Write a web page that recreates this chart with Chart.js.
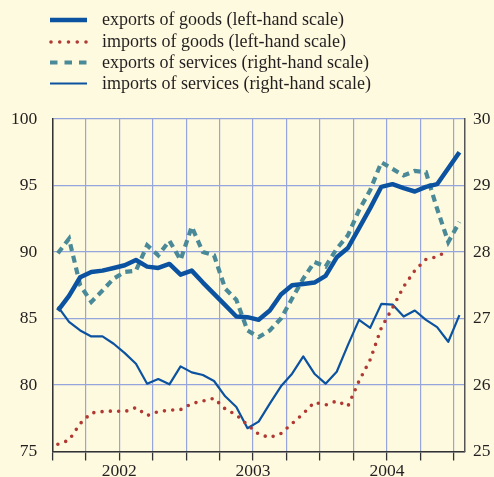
<!DOCTYPE html>
<html>
<head>
<meta charset="utf-8">
<script src="https://cdn.jsdelivr.net/npm/chart.js@4"></script>
<style>
  html, body { margin: 0; padding: 0; background: #fefadf; }
  canvas { display: block; }
</style>
</head>
<body>
<canvas id="tradeChart" width="494" height="477"></canvas>
<script>
// Monthly data, Jan 2002 - Jan 2005
const yearLabels = { 6: '2002', 18: '2003', 30: '2004' };

const exportsGoods = [85.6, 86.7, 88.1, 88.5, 88.6, 88.8, 89.0, 89.4, 88.9, 88.8, 89.1, 88.3,
    88.6, 87.7, 86.85, 86.0, 85.15, 85.1, 84.9, 85.6, 86.8, 87.5, 87.6, 87.7,
    88.2, 89.6, 90.3, 91.8, 93.3, 94.9, 95.1, 94.8, 94.55, 94.9, 95.1, 96.3, 97.5];

const importsGoods = [75.55, 75.85, 77.1, 77.9, 78.0, 78.05, 78.0, 78.3, 77.7, 78.0, 78.1, 78.15,
    78.6, 78.8, 79.0, 78.2, 77.75, 77.0, 76.3, 76.05, 76.35, 77.1, 77.85, 78.7,
    78.5, 78.8, 78.4, 80.3, 81.9, 84.3, 85.8, 87.4, 88.6, 89.45, 89.65, 90.1, null];

const exportsServices = [27.98, 28.2, 27.5, 27.25, 27.42, 27.6, 27.7, 27.72, 28.1, 27.95, 28.17, 27.88,
    28.38, 28.0, 27.95, 27.45, 27.28, 26.82, 26.72, 26.82, 27.0, 27.3, 27.6, 27.85,
    27.78, 28.05, 28.25, 28.63, 28.93, 29.35, 29.25, 29.15, 29.22, 29.2, 28.65, 28.15, 28.45];

const importsServices = [27.18, 26.95, 26.82, 26.73, 26.73, 26.62, 26.48, 26.32, 26.02, 26.09, 26.01, 26.28,
    26.19, 26.15, 26.06, 25.83, 25.67, 25.35, 25.45, 25.72, 25.98, 26.17, 26.43, 26.17,
    26.02, 26.2, 26.6, 26.98, 26.86, 27.22, 27.21, 27.03, 27.12, 26.98, 26.87, 26.65, 27.05];

const seriesNames = [
    'exports of goods (left-hand scale)',
    'imports of goods (left-hand scale)',
    'exports of services (right-hand scale)',
    'imports of services (right-hand scale)'
];

const blue = '#0b52a0';
const red = '#b03a33';
const teal = '#4a8a98';
const gridBlue = '#97a5dd';
const textColor = '#231f20';
const serif = '"Liberation Serif", "DejaVu Serif", serif';

// points sit in the middle of each month
function toPoints(values) {
    return values.map((v, i) => ({ x: i + 0.5, y: v }));
}

// legend drawn by hand: line sample on the left, text on the right
const legendPlugin = {
    id: 'sideLegend',
    afterDraw(chart) {
        const ctx = chart.ctx;
        const rows = [20, 42, 62.5, 83.5];
        chart.data.datasets.forEach((ds, i) => {
            const y = rows[i];
            ctx.save();
            ctx.strokeStyle = ds.borderColor;
            ctx.lineWidth = ds.borderWidth;
            ctx.lineCap = ds.borderCapStyle || 'butt';
            ctx.setLineDash(ds.legendDash || []);
            ctx.beginPath();
            ctx.moveTo(i === 1 ? 51 : 50, y);
            ctx.lineTo(87, y);
            ctx.stroke();
            ctx.restore();

            ctx.save();
            ctx.fillStyle = textColor;
            ctx.font = '18px ' + serif;
            ctx.textBaseline = 'middle';
            ctx.fillText(ds.label, 102, y + 0.5);
            ctx.restore();
        });
    }
};

const chart = document.getElementById('tradeChart').getContext('2d');

const config = {
    type: 'line',
    data: {
        datasets: [
            {
                label: seriesNames[0],
                data: toPoints(exportsGoods),
                yAxisID: 'y',
                borderColor: blue,
                borderWidth: 4.5,
                borderJoinStyle: 'round',
                pointRadius: 0,
                tension: 0,
            },
            {
                label: seriesNames[1],
                data: toPoints(importsGoods),
                yAxisID: 'y',
                borderColor: red,
                borderWidth: 3.6,
                borderCapStyle: 'round',
                borderDash: [0, 8.3],
                legendDash: [0, 8.75],
                pointRadius: 0,
                tension: 0,
                spanGaps: false,
            },
            {
                label: seriesNames[2],
                data: toPoints(exportsServices),
                yAxisID: 'y1',
                borderColor: teal,
                borderWidth: 4.2,
                borderDash: [7, 5],
                legendDash: [7.5, 7],
                pointRadius: 0,
                tension: 0,
            },
            {
                label: seriesNames[3],
                data: toPoints(importsServices),
                yAxisID: 'y1',
                borderColor: blue,
                borderWidth: 2.2,
                borderJoinStyle: 'round',
                pointRadius: 0,
                tension: 0,
            },
        ],
    },
    options: {
        responsive: false,
        animation: false,
        devicePixelRatio: 1,
        layout: {
            padding: { top: 119, left: 0, right: 0, bottom: 0 },
        },
        plugins: {
            legend: { display: false },
            tooltip: { enabled: false },
        },
        scales: {
            x: {
                type: 'linear',
                min: 0,
                max: 37,
                afterFit: (scale) => { scale.height = 25; },
                grid: {
                    color: gridBlue,
                    lineWidth: 1.2,
                    tickColor: '#333',
                    tickLength: 9,
                    tickWidth: 1.3,
                },
                border: { color: '#333', width: 1.5 },
                ticks: {
                    stepSize: 3,
                    includeBounds: false,
                    autoSkip: false,
                    maxRotation: 0,
                    padding: 0,
                    color: textColor,
                    font: { family: serif, size: 17.5 },
                    callback: (value) => yearLabels[value] || '',
                },
            },
            y: {
                position: 'left',
                min: 75,
                max: 100,
                afterFit: (scale) => { scale.width = 52.3; },
                grid: {
                    color: gridBlue,
                    lineWidth: 1.2,
                    drawTicks: false,
                },
                border: { color: '#333', width: 1.5 },
                ticks: {
                    stepSize: 5,
                    padding: 15,
                    color: textColor,
                    font: { family: serif, size: 17.5 },
                },
            },
            y1: {
                position: 'right',
                min: 25,
                max: 30,
                afterFit: (scale) => { scale.width = 29; },
                grid: {
                    drawOnChartArea: false,
                    drawTicks: false,
                },
                border: { color: '#555', width: 1.5 },
                ticks: {
                    stepSize: 1,
                    padding: 8,
                    color: textColor,
                    font: { family: serif, size: 17.5 },
                },
            },
        },
    },
    plugins: [legendPlugin],
};

const myChart = new Chart(chart, config);
</script>
</body>
</html>
